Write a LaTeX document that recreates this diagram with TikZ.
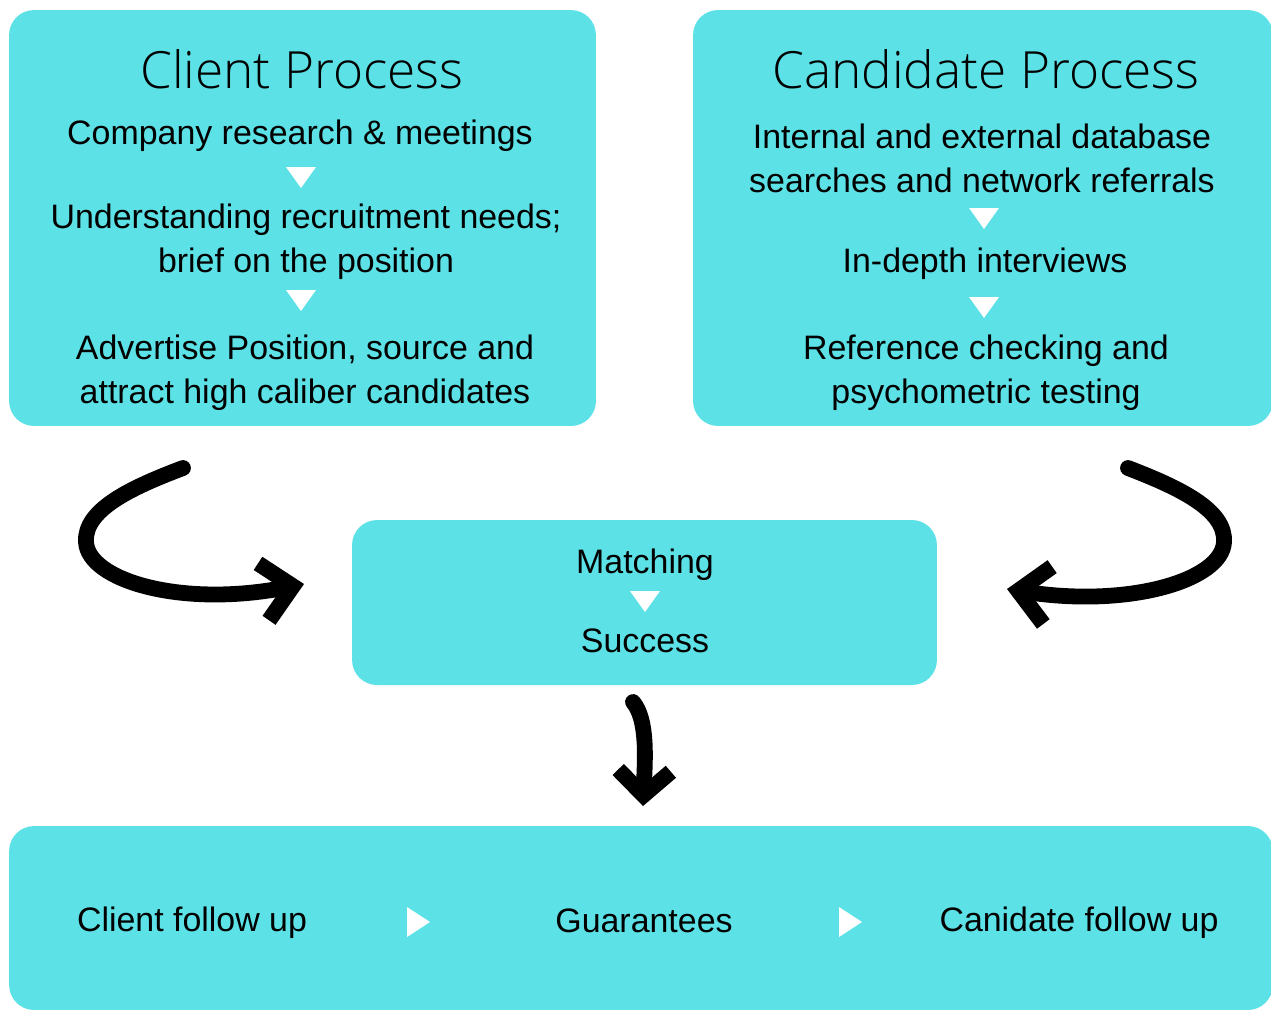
\documentclass[tikz,border=0pt]{standalone}
\usepackage{fontspec}
\setmainfont{Liberation Sans}
\newfontfamily\headfont{Open Sans Light}
\usetikzlibrary{arrows.meta}
\definecolor{turq}{HTML}{5CE1E6}
\tikzset{
  panel/.style={fill=turq, rounded corners=0.5cm, inner sep=0pt},
  headtxt/.style={font=\headfont\fontsize{29.2}{35}\selectfont, inner sep=0pt},
  steptxt/.style={font=\fontsize{19.3}{25}\selectfont, align=center, inner sep=0pt},
  swoosh/.style={line width=9pt, line cap=round, -{Straight Barb[length=17pt,width=33pt]}},
}

\begin{document}
\begin{tikzpicture}[x=0.02cm,y=-0.02cm]
	\useasboundingbox (0,0) rectangle (1271,1009);
	\clip (0,0) rectangle (1271,1009);
	% panels
	\node[panel,minimum width=11.74cm,minimum height=8.32cm] (client) at (302.5,218){};
	\node[panel,minimum width=11.6cm,minimum height=8.32cm] (cand) at (983,218){};
	\node[panel,minimum width=11.7cm,minimum height=3.3cm] (match) at (644.5,602.5){};
	\node[panel,minimum width=25.28cm,minimum height=3.68cm] (after) at (641,918){};
	% client process
	\node[headtxt] (clienthead) at (302,69){Client Process};
	\node[steptxt] (cl1) at (300,136){Company research \& meetings};
	\node[steptxt] (cl2) at (306,242){Understanding recruitment needs;\\brief on the position};
	\node[steptxt] (cl3) at (305,373){Advertise Position, source and\\attract high caliber candidates};
	% candidate process
	\node[headtxt] (candhead) at (986,69){Candidate Process};
	\node[steptxt] (ca1) at (982,158){Internal and external database\\searches and network referrals};
	\node[steptxt] (ca2) at (985,264){In-depth interviews};
	\node[steptxt] (ca3) at (986,373){Reference checking and\\psychometric testing};
	% matching
	\node[steptxt] (m1) at (645,565){Matching};
	\node[steptxt] (m2) at (645,641){Success};
	% follow up
	\node[steptxt] (f1) at (192,923){Client follow up};
	\node[steptxt] (f2) at (644,921){Guarantees};
	\node[steptxt] (f3) at (1079,923){Canidate follow up};
	% white markers
	\foreach \x/\y in {301/167, 301/290, 984/208, 984/297, 645/591}
		\fill[white] (\x-15,\y) -- (\x+15,\y) -- (\x,\y+21) -- cycle;
	\foreach \x in {407, 839}
		\fill[white] (\x,907) -- (\x+23,922) -- (\x,937) -- cycle;
	% arrows
	\coordinate (lbeg) at (183,468);
	\coordinate (lend) at (304,584);
	\coordinate (rbeg) at (1128,468);
	\coordinate (rend) at (1007,589);
	\coordinate (dbeg) at (633,702);
	\coordinate (dend) at (643,806);
	\draw[swoosh] (lbeg) .. controls (130,488) and (84,510) .. (86,542) .. controls (88,580) and (180,608) .. (lend);
	\draw[swoosh] (rbeg) .. controls (1180,488) and (1226,510) .. (1224,542) .. controls (1222,580) and (1130,608) .. (rend);
	\draw[swoosh,-{Straight Barb[length=14pt,width=30pt]}] (dbeg) .. controls (648,720) and (645,760) .. (dend);
\end{tikzpicture}
\end{document}
